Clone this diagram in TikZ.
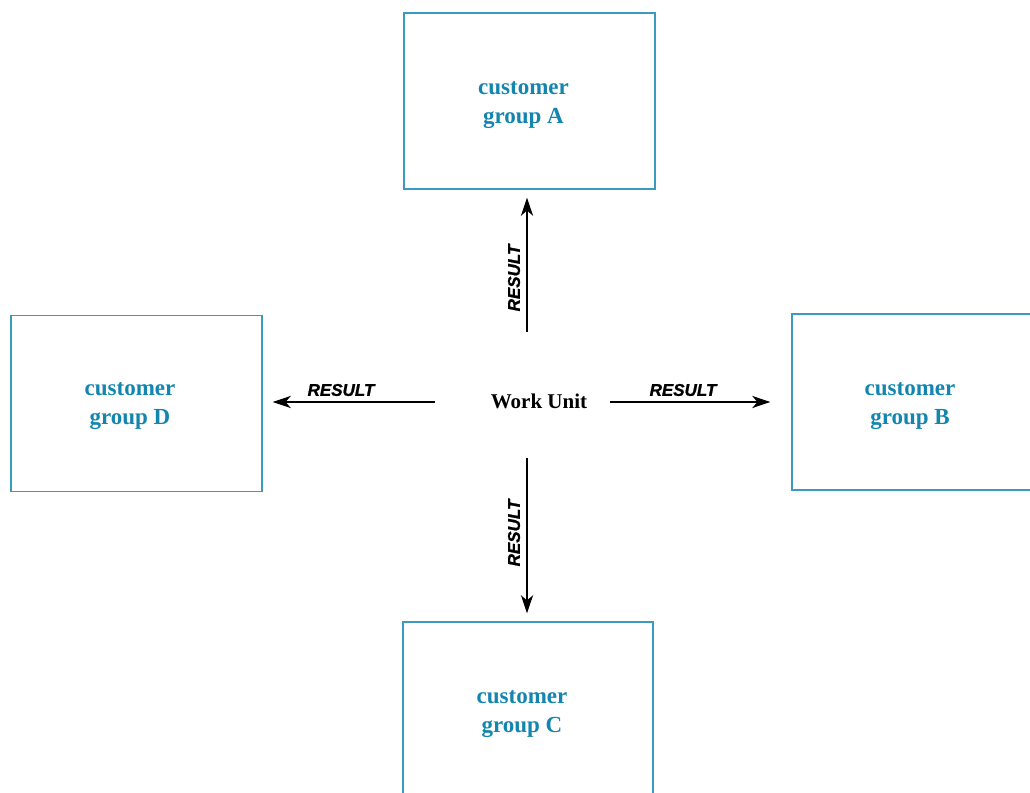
\documentclass[tikz,border=0pt]{standalone}
\usepackage{fontspec}
\setmainfont{Liberation Serif}
\newfontfamily\labfont{Liberation Sans Bold Italic}[FakeBold=1.2]
\usetikzlibrary{arrows.meta}
\definecolor{boxline}{HTML}{3A9AC0}
\definecolor{boxtext}{HTML}{1485AE}
\begin{document}
\begin{tikzpicture}[x=1pt,y=1pt,
  group/.style={draw=boxline, line width=1.3pt, minimum width=251pt, minimum height=176pt, inner sep=0pt},
  gtext/.style={align=center, text=boxtext, font=\fontsize{23}{29}\selectfont\bfseries, inner sep=0pt},
  arr/.style={line width=2.3pt, -{Stealth[length=18pt,width=12pt,inset=5pt]}},
  res/.style={font=\labfont\fontsize{17}{17}\selectfont, inner sep=0pt}]
\useasboundingbox (0,0) rectangle (1030,792);
\clip (0,0) rectangle (1030,792);
\node[group] (A) at (529.5,691) {};
\node[group, minimum width=250pt] (B) at (917,390) {};
\node[group, minimum width=250pt] (C) at (528,82) {};
\node[group] (D) at (136.5,388.5) {};
\node[gtext] (At) at (523.5,687) {customer\\group A};
\node[gtext] (Bt) at (910,386) {customer\\group B};
\node[gtext] (Ct) at (522,78) {customer\\group C};
\node[gtext] (Dt) at (130,386) {customer\\group D};
\node[font=\fontsize{21}{25}\selectfont\bfseries, inner sep=0pt] (wu) at (539,391) {Work Unit};
\coordinate (hub) at (527,390);
\draw[arr, shorten <=92pt, shorten >=10pt] (hub) -- (hub -| D.east);
\draw[arr, shorten <=83pt, shorten >=21pt] (hub) -- (hub -| B.west);
\draw[arr, shorten <=70pt, shorten >=8pt] (hub) -- (hub |- A.south);
\draw[arr, shorten <=56pt, shorten >=8pt] (hub) -- (hub |- C.north);
\node[res] (r1) at (341,402) {RESULT};
\node[res] (r2) at (683,402) {RESULT};
\node[res, rotate=90] (r3) at (514,514) {RESULT};
\node[res, rotate=90] (r4) at (514,259) {RESULT};
\end{tikzpicture}
\end{document}
